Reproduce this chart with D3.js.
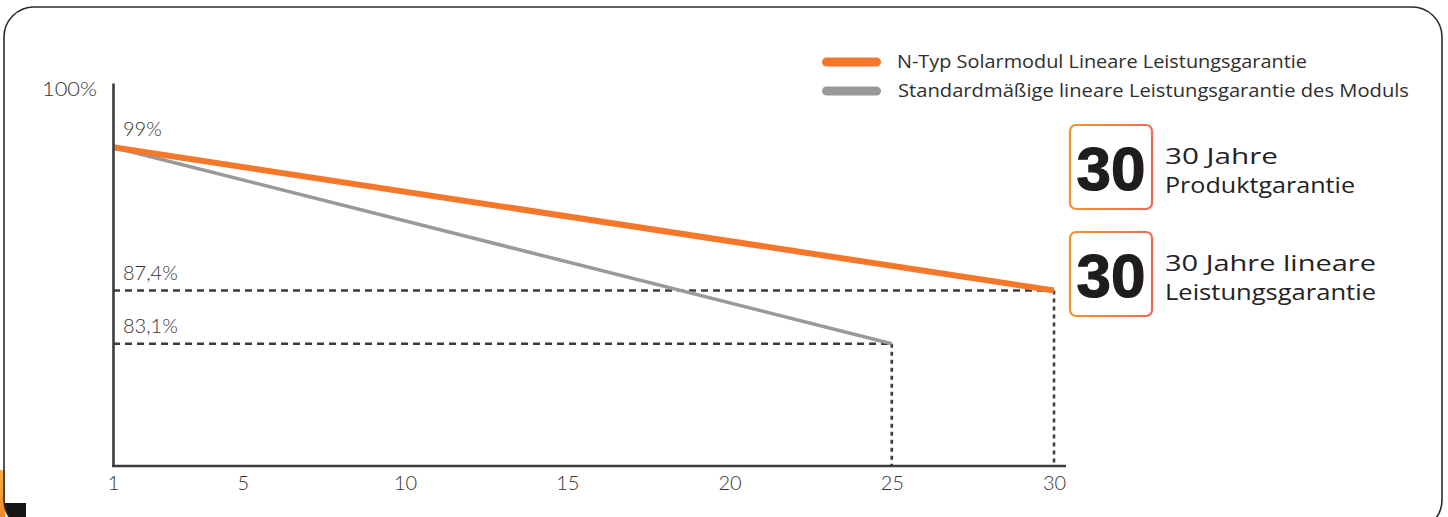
<!DOCTYPE html>
<html lang="de">
<head>
<meta charset="utf-8">
<script src="https://cdn.jsdelivr.net/npm/d3@7"></script>
<style>
  html, body { margin: 0; padding: 0; background: #ffffff; }
  svg { display: block; }
  .tick-label { font-family: Lato, "Open Sans", sans-serif; font-weight: 300; fill: #333333; }
  .legend-label { font-family: "Open Sans", "Noto Sans", sans-serif; font-weight: 400; fill: #2e2e2e; }
  .badge-num { font-family: "Liberation Sans", Arial, sans-serif; font-weight: 700; fill: #1e1c1c; }
  .badge-text { font-family: "Open Sans", "Noto Sans", sans-serif; font-weight: 400; fill: #222222; }
</style>
</head>
<body>
<svg id="chart" width="1448" height="517"></svg>
<script>
// Warranty curves: guaranteed output (%) by operating year
const xTickValues = [1, 5, 10, 15, 20, 25, 30];
const nTypeYears = [1, 30];
const nTypeValues = [99, 87.4];
const standardYears = [1, 25];
const standardValues = [99, 83.1];
const axisTopLabel = "100%";

const legendLabels = [
  "N-Typ Solarmodul Lineare Leistungsgarantie",
  "Standardmäßige lineare Leistungsgarantie des Moduls"
];
const badgeNumbers = ["30", "30"];
const badgeLines = [
  ["30 Jahre", "Produktgarantie"],
  ["30 Jahre lineare", "Leistungsgarantie"]
];

const ORANGE = "#f5782a";
const GREY = "#999999";
const DARK = "#3d3d3d";

const svg = d3.select("#chart");

// card frame
const frame = { x: 4, y: 7, w: 1438, h: 523, r: 30 };
const defs = svg.append("defs");
defs.append("clipPath").attr("id", "cardClip")
  .append("rect")
  .attr("x", frame.x).attr("y", frame.y)
  .attr("width", frame.w).attr("height", frame.h)
  .attr("rx", frame.r);

const grad = defs.append("linearGradient").attr("id", "badgeStroke")
  .attr("x1", "0%").attr("x2", "100%").attr("y1", "0%").attr("y2", "0%");
grad.append("stop").attr("offset", "0%").attr("stop-color", "#f7922a");
grad.append("stop").attr("offset", "100%").attr("stop-color", "#f26a55");

const edgeGrad = defs.append("linearGradient").attr("id", "edgeStrip")
  .attr("x1", "0%").attr("x2", "0%").attr("y1", "0%").attr("y2", "100%");
edgeGrad.append("stop").attr("offset", "0%").attr("stop-color", "#f6b04a");
edgeGrad.append("stop").attr("offset", "100%").attr("stop-color", "#ee8a2c");

// slice of neighbouring artwork peeking in at the lower left
svg.append("rect").attr("x", 0).attr("y", 470).attr("width", 5).attr("height", 47)
  .attr("fill", "url(#edgeStrip)");
svg.append("rect").attr("x", 4).attr("y", 503).attr("width", 22).attr("height", 20)
  .attr("fill", "#151515").attr("clip-path", "url(#cardClip)");

svg.append("rect")
  .attr("x", frame.x).attr("y", frame.y)
  .attr("width", frame.w).attr("height", frame.h)
  .attr("rx", frame.r)
  .attr("fill", "none")
  .attr("stroke", "#2b2b2b")
  .attr("stroke-width", 1.6);

// scales
const x = d3.scaleLinear().domain([1, 30]).range([113, 1054]);
const y = d3.scaleLinear().domain([73.2, 104.2]).range([466, 83]);
const xAxisEnd = x(30) + 12;

const fmt = v => String(v).replace(".", ",") + "%";

// reference guides (dashed) to each curve's end point
const guides = [
  { year: nTypeYears[1], value: nTypeValues[1] },
  { year: standardYears[1], value: standardValues[1] }
];
const gGuides = svg.append("g");
guides.forEach(d => {
  gGuides.append("line")
    .attr("x1", x(1)).attr("x2", x(d.year))
    .attr("y1", y(d.value)).attr("y2", y(d.value))
    .attr("stroke", DARK).attr("stroke-width", 2.6)
    .attr("stroke-dasharray", "7,5");
  gGuides.append("line")
    .attr("x1", x(d.year)).attr("x2", x(d.year))
    .attr("y1", y(d.value)).attr("y2", y.range()[0])
    .attr("stroke", DARK).attr("stroke-width", 2.6)
    .attr("stroke-dasharray", "4,4");
});

// curves
const line = d3.line().x(d => x(d[0])).y(d => y(d[1]));
svg.append("path")
  .datum(standardYears.map((yr, i) => [yr, standardValues[i]]))
  .attr("d", line)
  .attr("fill", "none").attr("stroke", GREY).attr("stroke-width", 3.5);
svg.append("path")
  .datum(nTypeYears.map((yr, i) => [yr, nTypeValues[i]]))
  .attr("d", line)
  .attr("fill", "none").attr("stroke", ORANGE).attr("stroke-width", 6);

// axes
const xAxis = d3.axisBottom(x).tickValues(xTickValues).tickSize(0).tickPadding(10)
  .tickFormat(d3.format("d"));
const gx = svg.append("g").attr("transform", `translate(0,${y.range()[0]})`).call(xAxis);
gx.select(".domain").remove();
gx.selectAll("text").attr("class", "tick-label").attr("font-size", 20)
  .attr("dy", "0.71em");
svg.append("line")
  .attr("x1", x(1) - 1).attr("x2", xAxisEnd)
  .attr("y1", y.range()[0]).attr("y2", y.range()[0])
  .attr("stroke", DARK).attr("stroke-width", 2.6);

const yAxis = d3.axisLeft(y).tickValues([]).tickSizeOuter(0);
const gy = svg.append("g").attr("transform", `translate(${x(1)},0)`).call(yAxis);
gy.select(".domain").attr("stroke", DARK).attr("stroke-width", 2.6);

svg.append("text").attr("class", "tick-label")
  .attr("x", x(1) - 16).attr("y", y.range()[1] + 13)
  .attr("text-anchor", "end").attr("font-size", 20)
  .attr("textLength", 55).attr("lengthAdjust", "spacingAndGlyphs")
  .text(axisTopLabel);

// value labels above each level
const levelLabels = [nTypeValues[0], nTypeValues[1], standardValues[1]];
levelLabels.forEach(v => {
  svg.append("text").attr("class", "tick-label")
    .attr("x", x(1) + 10).attr("y", y(v) - 11)
    .attr("font-size", 20)
    .text(fmt(v));
});

// legend
const legendColors = [ORANGE, GREY];
const legendWidths = [410, 511];
legendLabels.forEach((txt, i) => {
  const ly = 62 + i * 29;
  svg.append("rect").attr("x", 822).attr("y", ly - 4.5)
    .attr("width", 59).attr("height", 9).attr("rx", 4.5)
    .attr("fill", legendColors[i]);
  svg.append("text").attr("class", "legend-label")
    .attr("x", 897 + (i === 1 ? 1 : 0)).attr("y", ly + 6)
    .attr("font-size", 17.5)
    .attr("textLength", legendWidths[i]).attr("lengthAdjust", "spacingAndGlyphs")
    .text(txt);
});

// warranty badges
const badgeTextWidths = [[113, 190], [211, 211]];
badgeNumbers.forEach((num, i) => {
  const by = 125 + i * 107;
  svg.append("rect").attr("x", 1070).attr("y", by)
    .attr("width", 82).attr("height", 84).attr("rx", 6)
    .attr("fill", "#ffffff")
    .attr("stroke", "url(#badgeStroke)").attr("stroke-width", 2.2);
  svg.append("text").attr("class", "badge-num")
    .attr("x", 1111).attr("y", by + 65)
    .attr("text-anchor", "middle").attr("font-size", 62)
    .attr("stroke", "#1e1c1c").attr("stroke-width", 1.2)
    .text(num);
  badgeLines[i].forEach((t, j) => {
    svg.append("text").attr("class", "badge-text")
      .attr("x", 1165).attr("y", by + 39 + j * 29)
      .attr("font-size", 21)
      .attr("textLength", badgeTextWidths[i][j]).attr("lengthAdjust", "spacingAndGlyphs")
      .text(t);
  });
});
</script>
</body>
</html>
